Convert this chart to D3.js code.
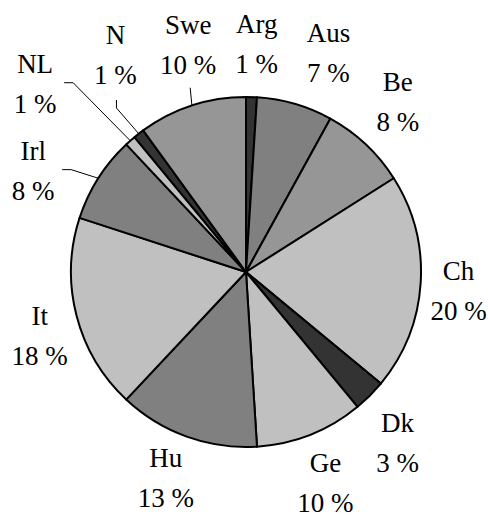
<!DOCTYPE html>
<html><head><meta charset="utf-8"><script src="https://cdn.jsdelivr.net/npm/d3@7"></script></head>
<body style="margin:0">
<svg id="chart" width="488" height="515"></svg>
<script>
// Share of each country, in percent, clockwise from 12 o'clock
const countries = ["Arg", "Aus", "Be", "Ch", "Dk", "Ge", "Hu", "It", "Irl", "NL", "N", "Swe"];
const shares    = [1, 7, 8, 20, 3, 10, 13, 18, 8, 1, 1, 10];
const fills     = ["#333333", "#808080", "#969696", "#c0c0c0", "#333333", "#c0c0c0",
                   "#808080", "#c0c0c0", "#808080", "#c0c0c0", "#333333", "#969696"];

const svg = d3.select("#chart");
const cx = 246, cy = 272, R = 175;

const data = countries.map((c, i) => ({ name: c, value: shares[i], fill: fills[i] }));

const pie = d3.pie().value(d => d.value).sort(null);
const arcs = pie(data);
const arc = d3.arc().innerRadius(0).outerRadius(R);

svg.append("g").attr("transform", `translate(${cx},${cy})`)
  .selectAll("path")
  .data(arcs)
  .join("path")
  .attr("d", arc)
  .attr("fill", d => d.data.fill)
  .attr("stroke", "#000")
  .attr("stroke-width", 2)
  .attr("stroke-linejoin", "round");

// Label placement: a box pushed just outside the rim along the slice's mid-angle,
// then shifted where neighbours would collide.
const gap = 12, halfW = 26, halfH = 32;
const nudge = {
  Arg: [4, -7], Aus: [23, -7], Be: [6, -8], Ch: [0, 7], Dk: [1, 18], Ge: [1, 9],
  Hu: [-8, 2], It: [0, 12], Irl: [-33, 18], NL: [-70, -22], N: [0, -42], Swe: [8, -17]
};
const leader = { Irl: "side", NL: "side", N: "top-bent", Swe: "top" };

const labels = arcs.map(d => {
  const a = (d.startAngle + d.endAngle) / 2;
  const s = Math.sin(a), c = Math.cos(a);
  const [dx, dy] = nudge[d.data.name];
  return {
    name: d.data.name, value: d.data.value,
    x: cx + (R + gap + halfW) * s + dx,
    y: cy - (R + gap + halfH) * c + dy,
    rim: [cx + R * s, cy - R * c]
  };
});

const lines = [];
labels.forEach(l => {
  lines.push({ text: l.name, x: l.x, y: l.y - 13 });
  lines.push({ text: l.value + " %", x: l.x, y: l.y + 27 });
});

svg.selectAll("text")
  .data(lines)
  .join("text")
  .attr("x", d => d.x)
  .attr("y", d => d.y)
  .attr("text-anchor", "middle")
  .attr("font-size", 27)
  .style("font-family", '"Tinos", "Liberation Serif", "FreeSerif"')
  .text(d => d.text);

// Leader lines for the labels dragged away from their slices
labels.forEach(l => {
  const kind = leader[l.name];
  if (!kind) return;
  let pts;
  if (kind === "side") {
    const x0 = l.x + 29, y0 = l.y - 3;
    pts = [[x0, y0], [x0 + 9, y0], l.rim];
  } else if (kind === "top-bent") {
    const x0 = l.x + 1, y0 = l.y + 43;
    pts = [[x0, y0], [x0, y0 + 8], l.rim];
  } else {
    pts = [[l.x + 2, l.y + 41], l.rim];
  }
  svg.append("path")
    .attr("d", d3.line()(pts))
    .attr("fill", "none")
    .attr("stroke", "#000")
    .attr("stroke-width", 1);
});
</script></body></html>
